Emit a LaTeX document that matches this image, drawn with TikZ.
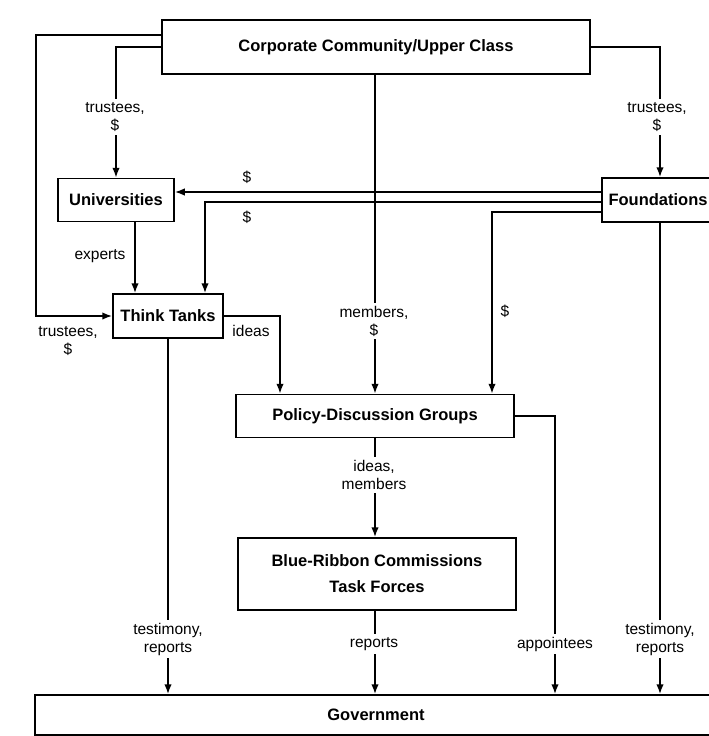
\documentclass[tikz,border=0pt]{standalone}
\usepackage{fontspec}
\setmainfont{Liberation Sans}
\usetikzlibrary{arrows.meta}
\begin{document}
\begin{tikzpicture}[x=1pt,y=-1pt,
  box/.style={draw, line width=1.5pt, inner sep=0pt, align=center,
    font=\fontsize{16.5}{20}\selectfont\bfseries},
  lbl/.style={font=\fontsize{15.5}{18}\selectfont, align=center, inner sep=2pt},
  wl/.style={lbl, fill=white, inner sep=3pt},
  conn/.style={line width=1.7pt},
  arr/.style={conn, -{Latex[length=10pt,width=7.5pt]}}]
\useasboundingbox (0,0) rectangle (709,736);
\fill[white] (0,0) rectangle (709,736);
\clip (0,0) rectangle (709,736);

% boxes
\node[box, minimum width=428pt, minimum height=54pt] (corp) at (376,47) {Corporate Community/Upper Class};
\node[box, minimum width=116pt, minimum height=43pt] (univ) at (116,200) {Universities};
\node[box, minimum width=112pt, minimum height=44pt] (found) at (658,200) {Foundations};
\node[box, minimum width=110pt, minimum height=44pt] (think) at (168,316) {Think Tanks};
\node[box, minimum width=278pt, minimum height=43pt] (policy) at (375,416) {Policy-Discussion Groups};
\node[box, minimum width=278pt, minimum height=72pt, font=\fontsize{16.5}{26}\selectfont\bfseries] (blue) at (377,574) {Blue-Ribbon Commissions\\Task Forces};
\node[box, minimum width=682pt, minimum height=40pt] (gov) at (376,715) {Government};

\coordinate (lc) at (36,316);
\coordinate (apx) at (555,0);
\coordinate (fx) at (660,0);

% connectors
\draw[arr] ([yshift=12pt]corp.west) -| (lc) -- (think.west);
\draw[arr] (corp.west) -| (univ.north);
\draw[arr] (corp.east) -| (fx |- found.north);
\draw[arr] ([yshift=8pt]found.west) -- ([yshift=8pt]found.west -| univ.east);
\draw[arr] ([yshift=-2pt]found.west) -| ([xshift=37pt]think.north);
\draw[arr] ([yshift=-12pt]found.west) -| ([xshift=117pt]policy.north);
\draw[arr] (fx |- found.south) -- (fx |- gov.north);
\draw[arr] (policy.north |- corp.south) -- (policy.north);
\draw[arr] ([xshift=19pt]univ.south) -- ([xshift=19pt]univ.south |- think.north);
\draw[arr] (think.east) -| ([xshift=-95pt]policy.north);
\draw[arr] (think.south) -- (think.south |- gov.north);
\draw[arr] (policy.south) -- (policy.south |- blue.north);
\draw[arr] (policy.south |- blue.south) -- (policy.south |- gov.north);
\draw[arr] (policy.east) -| (apx |- gov.north);

% labels
\node[wl] (l1) at (115,117) {trustees,\\\$};
\node[wl] (l2) at (657,117) {trustees,\\\$};
\node[lbl] (l3) at (247,177) {\$};
\node[lbl] (l4) at (247,217) {\$};
\node[lbl] (l5) at (100,256) {experts};
\node[lbl] (l6) at (68,341) {trustees,\\\$};
\node[lbl] (l7) at (251,331) {ideas};
\node[wl] (l8) at (374,321) {members,\\\$};
\node[lbl] (l9) at (505,311) {\$};
\node[wl] (l10) at (374,475) {ideas,\\members};
\node[wl] (l11) at (168,639) {testimony,\\reports};
\node[wl] (l12) at (660,639) {testimony,\\reports};
\node[wl] (l13) at (374,644) {reports};
\node[wl] (l14) at (555,644) {appointees};
\end{tikzpicture}
\end{document}
